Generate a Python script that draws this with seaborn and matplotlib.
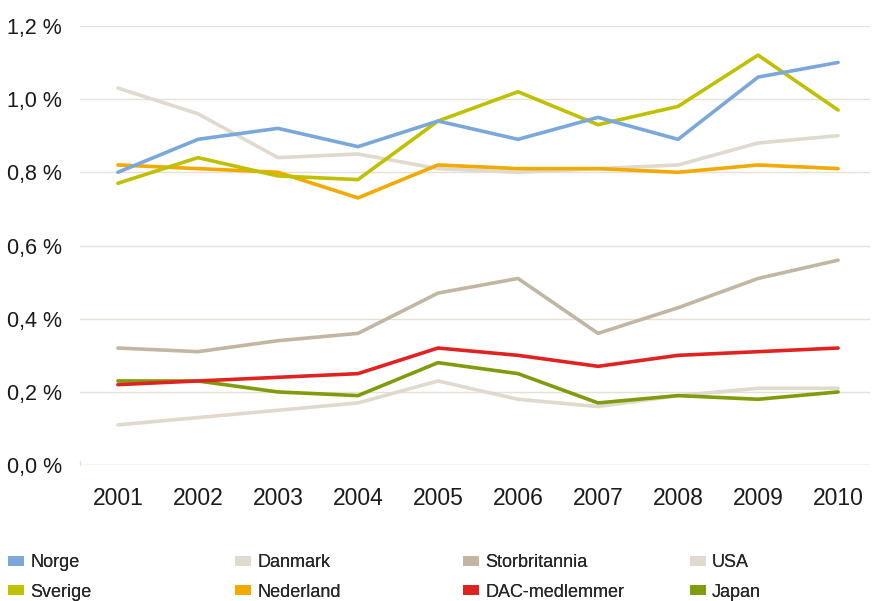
import matplotlib
matplotlib.use("Agg")
import matplotlib.pyplot as plt
from matplotlib.patches import Patch
import seaborn as sns
import pandas as pd

years = [2001, 2002, 2003, 2004, 2005, 2006, 2007, 2008, 2009, 2010]
norge = [0.80, 0.89, 0.92, 0.87, 0.94, 0.89, 0.95, 0.89, 1.06, 1.10]
sverige = [0.77, 0.84, 0.79, 0.78, 0.94, 1.02, 0.93, 0.98, 1.12, 0.97]
danmark = [1.03, 0.96, 0.84, 0.85, 0.81, 0.80, 0.81, 0.82, 0.88, 0.90]
nederland = [0.82, 0.81, 0.80, 0.73, 0.82, 0.81, 0.81, 0.80, 0.82, 0.81]
storbritannia = [0.32, 0.31, 0.34, 0.36, 0.47, 0.51, 0.36, 0.43, 0.51, 0.56]
dac = [0.22, 0.23, 0.24, 0.25, 0.32, 0.30, 0.27, 0.30, 0.31, 0.32]
japan = [0.23, 0.23, 0.20, 0.19, 0.28, 0.25, 0.17, 0.19, 0.18, 0.20]
usa = [0.11, 0.13, 0.15, 0.17, 0.23, 0.18, 0.16, 0.19, 0.21, 0.21]
yticks = [0.0, 0.2, 0.4, 0.6, 0.8, 1.0, 1.2]
ytick_labels = ["0,0 %", "0,2 %", "0,4 %", "0,6 %", "0,8 %", "1,0 %", "1,2 %"]

series = {
    "Norge": norge, "Danmark": danmark, "Storbritannia": storbritannia, "USA": usa,
    "Sverige": sverige, "Nederland": nederland, "DAC-medlemmer": dac, "Japan": japan,
}
colors = {
    "Norge": "#7BA8DA", "Danmark": "#E0D9CE", "Storbritannia": "#C2B6A2", "USA": "#E0D9CE",
    "Sverige": "#BFC000", "Nederland": "#F2A900", "DAC-medlemmer": "#E02321", "Japan": "#809B0B",
}
draw_order = ["USA", "Danmark", "Storbritannia", "Japan", "DAC-medlemmer", "Nederland", "Sverige", "Norge"]

rows = []
for name, vals in series.items():
    for y, v in zip(years, vals):
        rows.append({"year": y, "value": v, "land": name})
df = pd.DataFrame(rows)

sns.set_theme(style="white")
plt.rcParams["font.family"] = ["Liberation Sans", "DejaVu Sans"]

fig = plt.figure(figsize=(8.78, 6.01), dpi=100)
ax = fig.add_axes([0.091, 0.226, 0.900, 0.731])

for name in draw_order:
    sns.lineplot(data=df[df["land"] == name], x="year", y="value", color=colors[name],
                 linewidth=2.6, ax=ax, legend=False)

ax.set_xlim(2000.525, 2010.4)
ax.set_ylim(0, 1.2)
ax.set_yticks(yticks)
ax.set_yticklabels(ytick_labels)
ax.set_xticks(years)
ax.set_xticklabels([str(y) for y in years])
ax.yaxis.grid(True, color="#E6E0D5", linewidth=1.0)
ax.set_axisbelow(True)
for s in ["top", "right", "left", "bottom"]:
    ax.spines[s].set_visible(False)
ax.axhline(0, color="#E6E0D5", linewidth=1.0, zorder=0)
ax.plot([0, 0], [0, 0.012], transform=ax.get_yaxis_transform(), color="#E6E0D5", linewidth=1.0, clip_on=False)
ax.tick_params(axis="y", length=0, pad=13, labelsize=15.5, colors="#1a1a1a")
ax.tick_params(axis="x", length=0, pad=16, labelsize=16.5, colors="#1a1a1a")
ax.set_xlabel("")
ax.set_ylabel("")

columns = [["Norge", "Sverige"], ["Danmark", "Nederland"],
           ["Storbritannia", "DAC-medlemmer"], ["USA", "Japan"]]
col_x = [10, 237, 465, 692]
for names, x in zip(columns, col_x):
    handles = [Patch(facecolor=colors[n], edgecolor="none", label=n) for n in names]
    leg = fig.legend(handles=handles, loc="upper left",
                     bbox_to_anchor=(x / 878 - 0.009, 1 - 549 / 601),
                     frameon=False, handlelength=0.9, handleheight=0.5, handletextpad=0.35,
                     labelspacing=0.68, borderaxespad=0, borderpad=0.3,
                     prop={"size": 13})
    fig.add_artist(leg)

fig.savefig("out.png", dpi=100)
